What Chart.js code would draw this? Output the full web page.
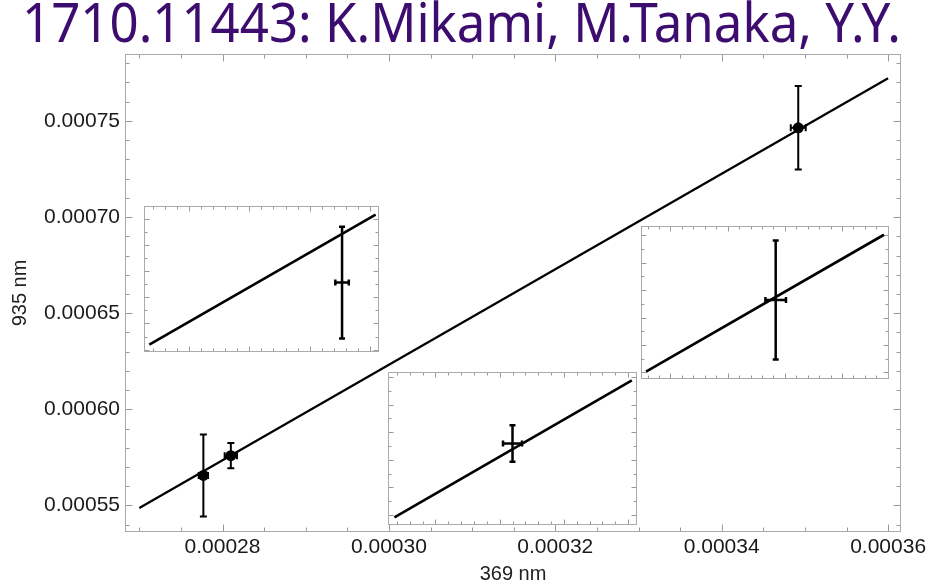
<!DOCTYPE html>
<html>
<head>
<meta charset="utf-8">
<script src="https://cdn.jsdelivr.net/npm/chart.js@4"></script>
<style>
  html, body { margin: 0; padding: 0; background: #fff; }
  #wrap { position: relative; width: 940px; height: 586px; overflow: hidden; }
  #main { position: absolute; left: 0; top: 0; }
  .inset { position: absolute; background: #fff; }
</style>
</head>
<body>
<div id="wrap">
  <canvas id="main" width="940" height="586"></canvas>
</div>
<script>
// ---- measurements: 369 nm vs 935 nm ----
const xTickLabels = ['0.00028', '0.00030', '0.00032', '0.00034', '0.00036'];
const yTickLabels = ['0.00055', '0.00060', '0.00065', '0.00070', '0.00075'];

const x369    = [0.0002777, 0.0002810, 0.0003492];
const x369Err = [0.00000056, 0.00000074, 0.0000009];
const y935    = [0.0005656, 0.0005759, 0.0007464];
const y935Err = [0.0000213, 0.0000066, 0.0000217];

// linear fit through the measurements
const fitX = [0.00027, 0.00036];
const fitY = [0.0005487, 0.0007722];

// axis windows
const xRange = [0.00026828, 0.00036155];
const yRange = [0.0005362, 0.0007848];

// zoomed panels, one per measurement
const insetPoint  = [0, 1, 2];
const insetXRange = [[0.00026124, 0.00028077], [0.0002713, 0.0002907], [0.00033742, 0.00035911]];
const insetYRange = [[0.00053911, 0.00059484], [0.0005464, 0.0006018], [0.00071761, 0.0007734]];
const insetFitX   = [[0.00026168, 0.00028049], [0.0002718, 0.0002903], [0.00033786, 0.00035867]];
const insetFitY   = [[0.00054193, 0.00059155], [0.0005492, 0.0005988], [0.00072028, 0.00077021]];

// ---- drawing helpers ----
const FRAME = '#aaaaaa';
const TICK = '#999999';

function ticksAlong(min, max, minor, major) {
  const out = [];
  const k0 = Math.ceil(min / minor - 1e-9), k1 = Math.floor(max / minor + 1e-9);
  for (let k = k0; k <= k1; k++) {
    const v = k * minor;
    const r = v / major;
    out.push({ v, major: Math.abs(r - Math.round(r)) < 1e-6 });
  }
  return out;
}

const framePlugin = {
  id: 'frameTicks',
  beforeDatasetsDraw(chart, args, o) {
    const { ctx, chartArea: a, scales: { x, y } } = chart;
    const L = Math.round(a.left) + 0.5, R = Math.round(a.right) - 0.5;
    const T = Math.round(a.top) + 0.5, B = Math.round(a.bottom) - 0.5;
    ctx.save();
    ctx.lineWidth = 1;
    ctx.strokeStyle = TICK;
    ctx.beginPath();
    ticksAlong(x.min, x.max, o.xMinor, o.xMajor).forEach(t => {
      const p = Math.round(x.getPixelForValue(t.v)) + 0.5;
      const len = t.major ? o.majorLen : o.minorLen;
      ctx.moveTo(p, B); ctx.lineTo(p, B - len);
      ctx.moveTo(p, T); ctx.lineTo(p, T + len);
    });
    ticksAlong(y.min, y.max, o.yMinor, o.yMajor).forEach(t => {
      const p = Math.round(y.getPixelForValue(t.v)) + 0.5;
      const len = t.major ? o.majorLen : o.minorLen;
      ctx.moveTo(L, p); ctx.lineTo(L + len, p);
      ctx.moveTo(R, p); ctx.lineTo(R - len, p);
    });
    ctx.stroke();
    ctx.strokeStyle = FRAME;
    ctx.strokeRect(L, T, R - L, B - T);
    ctx.restore();
  }
};

const errorBarPlugin = {
  id: 'errorBars',
  afterDatasetsDraw(chart, args, o) {
    const { ctx, scales: { x, y } } = chart;
    ctx.save();
    ctx.strokeStyle = '#000';
    ctx.lineWidth = o.width;
    ctx.lineCap = 'butt';
    o.points.forEach(i => {
      const px = x.getPixelForValue(x369[i]), py = y.getPixelForValue(y935[i]);
      const xl = x.getPixelForValue(x369[i] - x369Err[i]);
      const xr = x.getPixelForValue(x369[i] + x369Err[i]);
      const yt = y.getPixelForValue(y935[i] + y935Err[i]);
      const yb = y.getPixelForValue(y935[i] - y935Err[i]);
      const c = o.cap;
      ctx.beginPath();
      ctx.moveTo(px, yt); ctx.lineTo(px, yb);
      ctx.moveTo(px - c, yt); ctx.lineTo(px + c, yt);
      ctx.moveTo(px - c, yb); ctx.lineTo(px + c, yb);
      ctx.moveTo(xl, py); ctx.lineTo(xr, py);
      ctx.moveTo(xl, py - c); ctx.lineTo(xl, py + c);
      ctx.moveTo(xr, py - c); ctx.lineTo(xr, py + c);
      ctx.stroke();
    });
    ctx.restore();
  }
};

const labelFont = { family: '"Liberation Sans", Arial, sans-serif', size: 21 };
const titleFont = { family: '"Liberation Sans", Arial, sans-serif', size: 20 };

// ---- main panel ----
new Chart(document.getElementById('main'), {
  type: 'scatter',
  data: {
    datasets: [
      {
        data: fitX.map((v, i) => ({ x: v, y: fitY[i] })),
        showLine: true, borderColor: '#000', borderWidth: 2.2, pointRadius: 0
      },
      {
        data: x369.map((v, i) => ({ x: v, y: y935[i] })),
        backgroundColor: '#000', borderColor: '#000', pointRadius: 5.5, borderWidth: 0
      }
    ]
  },
  options: {
    responsive: false,
    animation: false,
    events: [],
    layout: { padding: { left: 22, right: 39, top: 0, bottom: 0 } },
    plugins: {
      legend: { display: false },
      tooltip: { enabled: false },
      title: {
        display: true,
        text: '1710.11443: K.Mikami, M.Tanaka, Y.Y.',
        color: '#3d0c6f',
        font: { family: '"Noto Sans", sans-serif', size: 54, weight: 'normal', lineHeight: 1 },
        padding: { top: 0, bottom: 0 }
      },
      frameTicks: { xMinor: 0.000005, xMajor: 0.00002, yMinor: 0.00001, yMajor: 0.00005, majorLen: 7, minorLen: 4 },
      errorBars: { points: [0, 1, 2], width: 2, cap: 3.5 }
    },
    scales: {
      x: {
        type: 'linear', min: xRange[0], max: xRange[1],
        grid: { display: false, drawTicks: false, tickLength: 0 }, border: { display: false },
        afterBuildTicks: s => { s.ticks = xTickLabels.map(t => ({ value: parseFloat(t) })); },
        afterFit: s => { s.height = 54; },
        ticks: { callback: (v, i) => xTickLabels[i], color: '#1a1a1a', font: labelFont, padding: 3, maxRotation: 0, autoSkip: false },
        title: { display: true, text: '369 nm', color: '#222', font: titleFont, padding: { top: 0, bottom: 0 } }
      },
      y: {
        type: 'linear', min: yRange[0], max: yRange[1],
        grid: { display: false, drawTicks: false, tickLength: 0 }, border: { display: false },
        afterBuildTicks: s => { s.ticks = yTickLabels.map(t => ({ value: parseFloat(t) })); },
        afterFit: s => { s.width = 103; },
        ticks: { callback: (v, i) => yTickLabels[i], color: '#1a1a1a', font: labelFont, padding: 5, autoSkip: false },
        title: { display: true, text: '935 nm', color: '#222', font: titleFont, padding: { top: -14, bottom: 0 } }
      }
    }
  },
  plugins: [framePlugin, errorBarPlugin]
});

// ---- zoomed panels ----
const insetBoxes = [
  { left: 144, top: 206, width: 235, height: 146, yMinor: 0.000005 },
  { left: 388, top: 372, width: 249, height: 153, yMinor: 0.000005 },
  { left: 641, top: 226, width: 248, height: 153, yMinor: 0.000005 }
];

insetBoxes.forEach((box, k) => {
  const cv = document.createElement('canvas');
  cv.className = 'inset';
  cv.width = box.width; cv.height = box.height;
  cv.style.left = box.left + 'px'; cv.style.top = box.top + 'px';
  document.getElementById('wrap').appendChild(cv);
  new Chart(cv, {
    type: 'scatter',
    data: {
      datasets: [{
        data: insetFitX[k].map((v, i) => ({ x: v, y: insetFitY[k][i] })),
        showLine: true, borderColor: '#000', borderWidth: 2.6, pointRadius: 0
      }]
    },
    options: {
      responsive: false, animation: false, events: [],
      layout: { padding: 0 },
      plugins: {
        legend: { display: false }, tooltip: { enabled: false },
        frameTicks: { xMinor: 0.000001, xMajor: 0.000005, yMinor: box.yMinor, yMajor: 0.00001, majorLen: 5, minorLen: 3 },
        errorBars: { points: [insetPoint[k]], width: 2.5, cap: 3 }
      },
      scales: {
        x: { type: 'linear', display: false, min: insetXRange[k][0], max: insetXRange[k][1] },
        y: { type: 'linear', display: false, min: insetYRange[k][0], max: insetYRange[k][1] }
      }
    },
    plugins: [framePlugin, errorBarPlugin]
  });
});
</script>
</body>
</html>
